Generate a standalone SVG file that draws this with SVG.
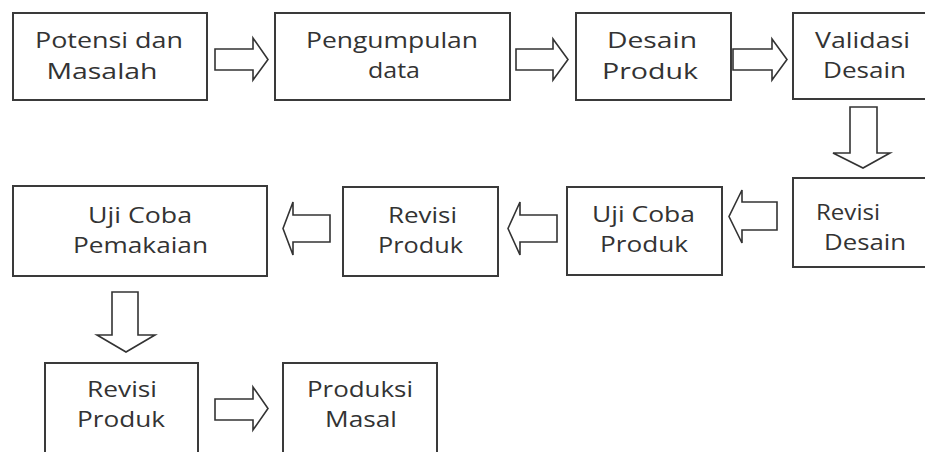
<svg xmlns="http://www.w3.org/2000/svg" width="925" height="452" viewBox="0 0 925 452">
<style>
.box{fill:#fff;stroke:#3a3a3a;stroke-width:2}
.arr{fill:#fff;stroke:#333;stroke-width:1.6;stroke-linejoin:miter}
text{font-family:"Open Sans","Noto Sans",sans-serif;font-size:22px;fill:#333;text-anchor:middle}
.sm{font-size:21px}
</style>
<rect width="925" height="452" fill="#fff"/>
<g id="connectors">
<polygon class="arr" points="215,49 253,49 253,38 268,59.5 253,80 253,70 215,70"/>
<polygon class="arr" points="516,49 553,49 553,39 568,59.5 553,80 553,70 516,70"/>
<polygon class="arr" points="733,49 772,49 772,39 787,59.5 772,80 772,70 733,70"/>
<polygon class="arr" points="850,107 877,107 877,153 890,153 863,168 833,153 850,153"/>
<polygon class="arr" points="777,202 742,202 742,190 729,216.5 742,243 742,230 777,230"/>
<polygon class="arr" points="557,215 520,215 520,202 508,228.5 520,255 520,242 557,242"/>
<polygon class="arr" points="330,215 293,215 293,202 283,228.5 293,255 293,242 330,242"/>
<polygon class="arr" points="112,292 138,292 138,335 155,335 126,352 97,335 112,335"/>
<polygon class="arr" points="215,399 253,399 253,387 268,408.5 253,430 253,420 215,420"/>
</g>
<g id="potensi">
<rect class="box" x="13" y="13" width="194" height="87"/>
<text x="109" y="48" textLength="148" lengthAdjust="spacingAndGlyphs">Potensi dan</text>
<text x="102" y="79" textLength="111" lengthAdjust="spacingAndGlyphs">Masalah</text>
</g>
<g id="pengumpulan">
<rect class="box" x="275" y="13" width="235" height="87"/>
<text x="392" y="48" textLength="172" lengthAdjust="spacingAndGlyphs">Pengumpulan</text>
<text x="394" y="78" textLength="52" lengthAdjust="spacingAndGlyphs">data</text>
</g>
<g id="desain-produk">
<rect class="box" x="576" y="13" width="155" height="87"/>
<text x="652" y="48" textLength="90" lengthAdjust="spacingAndGlyphs">Desain</text>
<text x="650" y="79" textLength="96" lengthAdjust="spacingAndGlyphs">Produk</text>
</g>
<g id="validasi">
<rect class="box" x="793" y="13" width="145" height="86"/>
<text x="862.5" y="48" textLength="95" lengthAdjust="spacingAndGlyphs">Validasi</text>
<text x="864.5" y="78" textLength="83" lengthAdjust="spacingAndGlyphs">Desain</text>
</g>
<g id="revisi-desain">
<rect class="box" x="793" y="178" width="145" height="89"/>
<text x="848" y="220" textLength="64" lengthAdjust="spacingAndGlyphs">Revisi</text>
<text x="865" y="250" textLength="82" lengthAdjust="spacingAndGlyphs">Desain</text>
</g>
<g id="uji-coba-produk">
<rect class="box" x="567" y="187" width="155" height="88"/>
<text x="643.5" y="222" textLength="103" lengthAdjust="spacingAndGlyphs">Uji Coba</text>
<text x="644" y="252" textLength="88" lengthAdjust="spacingAndGlyphs">Produk</text>
</g>
<g id="revisi-produk-1">
<rect class="box" x="343" y="187" width="155" height="89"/>
<text x="422.5" y="223" textLength="69" lengthAdjust="spacingAndGlyphs">Revisi</text>
<text x="420.5" y="253" textLength="85" lengthAdjust="spacingAndGlyphs">Produk</text>
</g>
<g id="uji-coba-pemakaian">
<rect class="box" x="13" y="186" width="254" height="90"/>
<text x="140" y="223" textLength="104" lengthAdjust="spacingAndGlyphs">Uji Coba</text>
<text x="140.5" y="253" textLength="135" lengthAdjust="spacingAndGlyphs">Pemakaian</text>
</g>
<g id="revisi-produk-2">
<rect class="box" x="45" y="363" width="153" height="100"/>
<text class="sm" x="122" y="397" textLength="70" lengthAdjust="spacingAndGlyphs">Revisi</text>
<text class="sm" x="121" y="427" textLength="88" lengthAdjust="spacingAndGlyphs">Produk</text>
</g>
<g id="produksi-masal">
<rect class="box" x="283" y="363" width="154" height="100"/>
<text class="sm" x="360" y="397" textLength="106" lengthAdjust="spacingAndGlyphs">Produksi</text>
<text class="sm" x="361" y="427" textLength="72" lengthAdjust="spacingAndGlyphs">Masal</text>
</g>
</svg>
